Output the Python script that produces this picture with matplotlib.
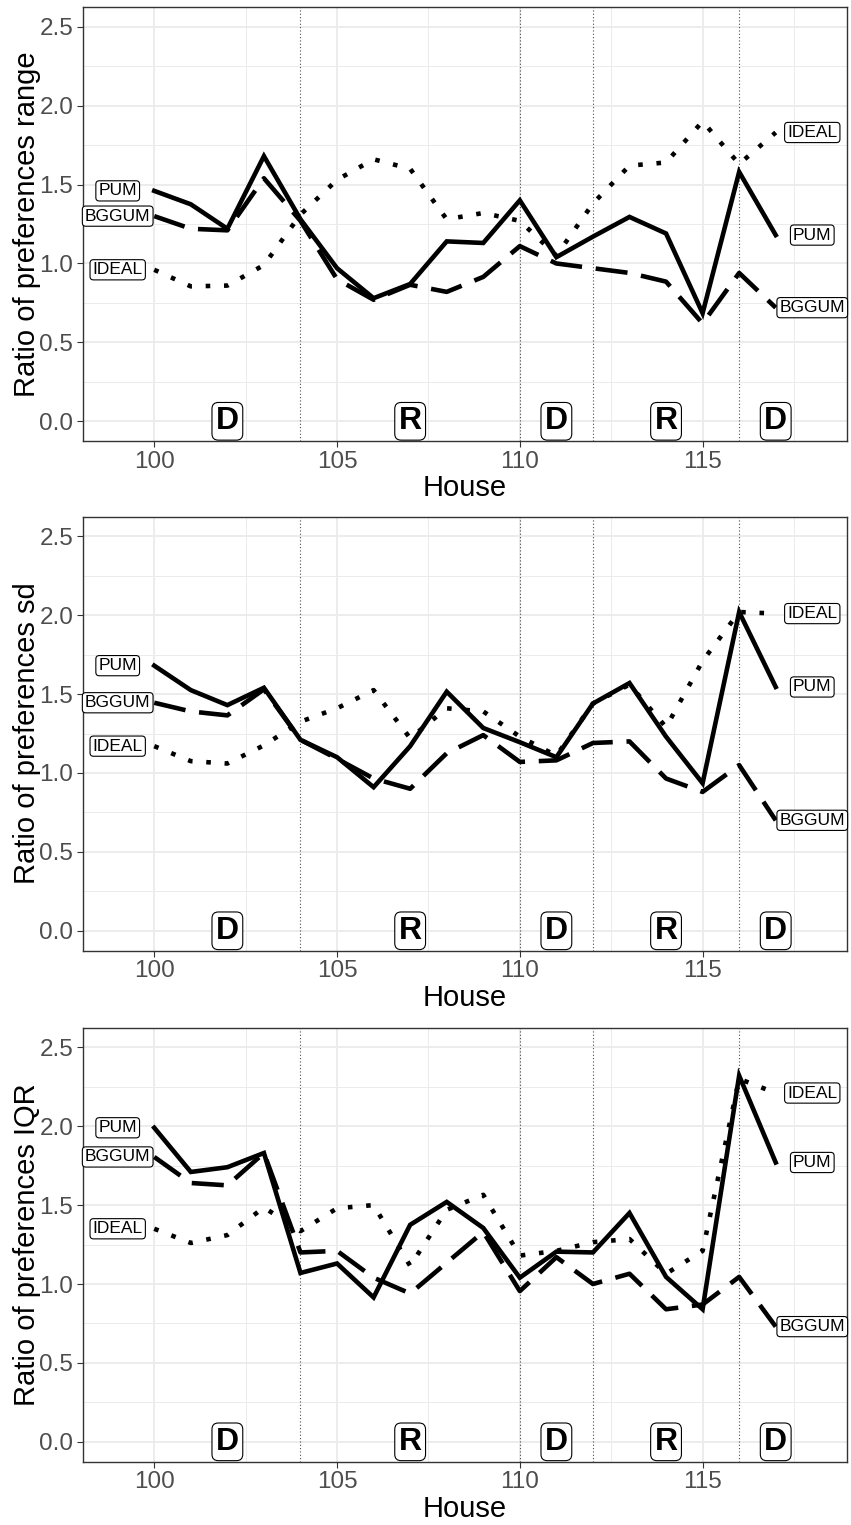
import matplotlib
matplotlib.use('Agg')
import matplotlib.pyplot as plt
import numpy as np

plt.rcParams['font.family'] = ['Liberation Sans', 'DejaVu Sans']

# kadencje Izby
house = np.arange(100, 118)

# stosunek rozrzutu preferencji - range
pum_range = [1.46, 1.375, 1.22, 1.68, 1.28, 0.97, 0.78, 0.87, 1.14, 1.13, 1.40, 1.04, 1.17, 1.295, 1.19, 0.685, 1.58, 1.18]
bggum_range = [1.30, 1.22, 1.21, 1.54, 1.27, 0.90, 0.77, 0.865, 0.82, 0.915, 1.11, 1.00, 0.97, 0.94, 0.885, 0.62, 0.94, 0.72]
ideal_range = [0.96, 0.855, 0.86, 0.99, 1.31, 1.53, 1.66, 1.60, 1.28, 1.32, 1.27, 1.05, 1.38, 1.62, 1.64, 1.90, 1.63, 1.83]

# sd
pum_sd = [1.68, 1.525, 1.43, 1.54, 1.21, 1.10, 0.91, 1.17, 1.515, 1.285, 1.195, 1.10, 1.44, 1.57, 1.23, 0.935, 2.02, 1.545]
bggum_sd = [1.445, 1.39, 1.365, 1.53, 1.21, 1.09, 0.965, 0.90, 1.125, 1.24, 1.07, 1.08, 1.19, 1.20, 0.965, 0.88, 1.05, 0.70]
ideal_sd = [1.17, 1.075, 1.06, 1.175, 1.325, 1.41, 1.525, 1.22, 1.41, 1.39, 1.23, 1.11, 1.44, 1.56, 1.29, 1.71, 2.02, 2.01]

# IQR
pum_iqr = [1.99, 1.71, 1.74, 1.83, 1.07, 1.13, 0.915, 1.375, 1.52, 1.355, 1.04, 1.205, 1.20, 1.45, 1.045, 0.84, 2.32, 1.77]
bggum_iqr = [1.805, 1.64, 1.625, 1.83, 1.20, 1.21, 1.04, 0.94, 1.135, 1.33, 0.955, 1.17, 1.00, 1.065, 0.84, 0.87, 1.045, 0.73]
ideal_iqr = [1.35, 1.26, 1.31, 1.485, 1.335, 1.48, 1.50, 1.115, 1.47, 1.565, 1.18, 1.21, 1.265, 1.285, 1.065, 1.21, 2.30, 2.21]

# zmiany wiekszosci i partie
breaks = [104, 110, 112, 116]
party_x = [102, 107, 111, 114, 117]
party = ['D', 'R', 'D', 'R', 'D']

panels = [
    ('Ratio of preferences range', pum_range, bggum_range, ideal_range),
    ('Ratio of preferences sd', pum_sd, bggum_sd, ideal_sd),
    ('Ratio of preferences IQR', pum_iqr, bggum_iqr, ideal_iqr),
]

fig = plt.figure(figsize=(8.51, 15.25), dpi=100)
bottoms = [0.7108, 0.3767, 0.0416]
lw = 3.3
box = dict(boxstyle='round,pad=0.15,rounding_size=0.2', fc='white', ec='black', lw=0.8)

for (ylab, pum, bggum, ideal), b in zip(panels, bottoms):
    ax = fig.add_axes([0.0975, b, 0.8978, 0.2846])
    ax.set_xlim(98.05, 118.95)
    ax.set_ylim(-0.125, 2.625)
    ax.set_xticks([100, 105, 110, 115])
    ax.set_xticks([102.5, 107.5, 112.5, 117.5], minor=True)
    ax.set_yticks([0, 0.5, 1.0, 1.5, 2.0, 2.5])
    ax.set_yticks([0.25, 0.75, 1.25, 1.75, 2.25], minor=True)
    ax.set_yticklabels(['0.0', '0.5', '1.0', '1.5', '2.0', '2.5'])
    ax.grid(True, which='major', color='#EBEBEB', lw=1.3, zorder=0)
    ax.grid(True, which='minor', color='#EBEBEB', lw=0.7, zorder=0)
    ax.set_axisbelow(True)
    ax.tick_params(which='major', labelsize=17.5, labelcolor='#4D4D4D', color='#333333', length=4, width=0.8, pad=3)
    ax.tick_params(which='minor', length=0)
    for s in ax.spines.values():
        s.set_color('#333333')
        s.set_linewidth(1.0)

    for xb in breaks:
        ax.axvline(xb, color='#4D4D4D', lw=0.8, dashes=(1, 2), zorder=1)

    ax.plot(house, pum, color='black', lw=lw, solid_joinstyle='miter', zorder=3)
    ax.plot(house, bggum, color='black', lw=lw, dashes=(7, 3), zorder=3)
    ax.plot(house, ideal, color='black', lw=lw, dashes=(1, 3), zorder=3)

    for name, vals in (('PUM', pum), ('BGGUM', bggum), ('IDEAL', ideal)):
        ax.text(house[0] - 1, vals[0], name, fontsize=12.5, ha='center', va='center', bbox=box, zorder=5)
        ax.text(house[-1] + 1, vals[-1], name, fontsize=12.5, ha='center', va='center', bbox=box, zorder=5)

    for px, p in zip(party_x, party):
        ax.text(px, 0, p, fontsize=23, fontweight='bold', ha='center', va='center',
                bbox=dict(boxstyle='round,pad=0.12,rounding_size=0.2', fc='white', ec='black', lw=0.8), zorder=5)

    ax.set_xlabel('House', fontsize=21, labelpad=1)
    ax.set_ylabel(ylab, fontsize=21, labelpad=-1)

fig.savefig('out.png', dpi=100)
